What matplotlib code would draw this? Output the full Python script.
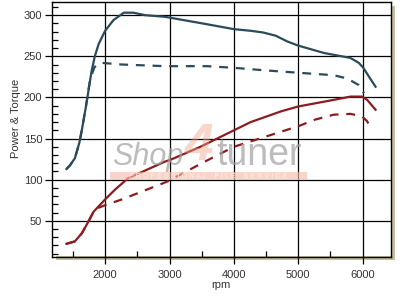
import matplotlib
matplotlib.use("Agg")
import matplotlib.pyplot as plt
from matplotlib.patches import Rectangle
from matplotlib.ticker import MultipleLocator

plt.rcParams["font.family"] = ["Liberation Sans", "DejaVu Sans"]

# ---- data ----
power_rpm = [1400, 1450, 1530, 1600, 1640, 1700, 1725, 1790, 1840, 1900, 2000, 2130, 2290,
             2440, 2620, 2930, 3580, 4000, 4260, 4450, 4650, 4830, 5000, 5400, 5810, 5940,
             6010, 6100, 6200]
power = [113, 117, 126, 145, 161, 188, 200, 232, 250, 265, 281, 294, 303,
         303, 300, 298, 289, 283, 281, 279, 275, 268, 263, 254, 248, 242,
         236, 225, 213]

power_stock_rpm = [1400, 1450, 1530, 1600, 1640, 1700, 1767, 1830, 1870, 1950, 2260, 2930,
                   3580, 4000, 4470, 5000, 5550, 5760, 5940, 6020]
power_stock = [113, 117, 126, 145, 161, 188, 222, 236, 240, 242, 240, 238,
               238, 236, 233, 230, 227, 223, 215, 205]

torque_rpm = [1400, 1530, 1640, 1740, 1820, 2000, 2155, 2360, 2675, 2930, 3010, 3480,
              4000, 4260, 4730, 5000, 5550, 5810, 5990, 6070, 6200]
torque = [22, 25, 35, 49, 61, 76, 88, 102, 113, 122, 124, 140,
          160, 170, 183, 189, 197, 201, 201, 197, 185]

torque_stock_rpm = [1400, 1530, 1640, 1740, 1820, 1870, 2000, 2260, 2520, 2910, 3000, 3500,
                    4000, 5000, 5260, 5550, 5810, 5990, 6070, 6120]
torque_stock = [22, 25, 35, 49, 61, 65, 69, 76, 84, 96, 99, 120,
                140, 165, 173, 179, 180, 177, 171, 163]

x_ticks = [2000, 3000, 4000, 5000, 6000]
y_ticks = [50, 100, 150, 200, 250, 300]

c_pow = "#2b4a5a"
c_tq = "#8c1c1f"

W, H = 414, 303
fig = plt.figure(figsize=(W / 100, H / 100), dpi=100)
ax = fig.add_axes([52 / W, 1 - 257 / H, (391 - 52) / W, (257 - 2) / H])

# drop shadow under the plot frame
fig.add_artist(Rectangle((56 / W, 1 - 260 / H), (395 - 56) / W, 4 / H,
                         transform=fig.transFigure, fc="#c6bf9f", ec="none", zorder=0))
fig.add_artist(Rectangle((391 / W, 1 - 260 / H), 4 / W, (260 - 6) / H,
                         transform=fig.transFigure, fc="#c6bf9f", ec="none", zorder=0))

ax.set_xlim(1175, 6440)
ax.set_ylim(6, 316)
ax.set_xticks(x_ticks)
ax.set_yticks(y_ticks)
ax.xaxis.set_minor_locator(MultipleLocator(500))
ax.yaxis.set_minor_locator(MultipleLocator(10))
ax.grid(True, which="major", color="black", lw=0.9)
ax.set_axisbelow(True)
for s in ax.spines.values():
    s.set_color("black"); s.set_linewidth(1.0)
ax.tick_params(which="major", direction="out", length=5, width=0.9, labelsize=8,
               labelcolor="#333333", pad=2)
ax.tick_params(axis="x", which="major", pad=4)
ax.tick_params(which="minor", direction="in", length=4.5, width=0.9)

# watermark (logo)
fig.text(199 / W, 1 - 160 / H, "4", fontsize=37, color="#f0a48a", alpha=0.45,
         ha="center", va="baseline", weight="bold", style="italic", zorder=1)
fig.add_artist(Rectangle((110 / W, 1 - 179.5 / H), (307 - 110) / W, 8 / H,
                         transform=fig.transFigure, fc="#f4bfae", ec="none", alpha=0.65, zorder=1))
fig.text(208 / W, 1 - 176 / H, "P R O F E S S I O N A L    F I L E    S E R V I C E",
         fontsize=5.2, color="#f7f0ee", ha="center", va="center", zorder=1)
fig.text(112 / W, 1 - 165 / H, "Shop", fontsize=22, color="#a0a0a0", alpha=0.7,
         style="italic", ha="left", va="baseline", zorder=1)
fig.text(216 / W, 1 - 165 / H, "tuner", fontsize=27, color="#a0a0a0", alpha=0.7,
         ha="left", va="baseline", zorder=1)

ax.plot(power_rpm, power, color=c_pow, lw=1.6, zorder=3)
ax.plot(power_stock_rpm, power_stock, color=c_pow, lw=1.6, dashes=(4, 3.5), zorder=3)
ax.plot(torque_rpm, torque, color=c_tq, lw=1.6, zorder=3)
ax.plot(torque_stock_rpm, torque_stock, color=c_tq, lw=1.6, dashes=(4, 3.5), zorder=3)
ax.patch.set_alpha(0)

fig.text(16 / W, 1 - 118 / H, "Power & Torque", rotation=90, fontsize=8,
         color="#333333", ha="center", va="center")
fig.text(211 / W, 1 - 285 / H, "rpm", fontsize=8, color="#333333", ha="left", va="center")

fig.savefig("out.png", dpi=100)
